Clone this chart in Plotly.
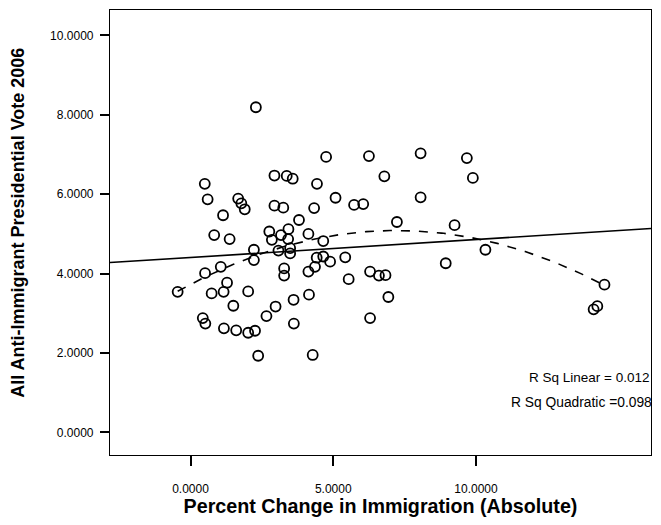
import numpy as np
import plotly.graph_objects as go

# Percent change in immigration (x) and anti-immigrant vote (y)
pct_change = [
    2.29, 2.94, 3.37, 3.58, 0.50, 0.60, 1.67, 1.78, 1.90, 2.94,
    3.25, 1.14, 3.80, 0.83, 1.37, 2.76, 3.17, 3.43, 2.85, 3.42,
    3.49, 3.49, 3.08, 2.22, 2.22, 1.06, 3.28, 3.28, 4.75, 6.25,
    8.06, 9.68, 6.79, 9.89, 4.43, 5.08, 8.06, 5.73, 6.05, 4.33,
    7.23, 9.25, 4.13, 4.65, 10.33, 4.42, 4.65, 4.89, 5.42, 8.94,
    6.29, 4.36, 4.13, 5.54, 6.60, 6.83, 4.15, 6.93, 6.29, 4.28,
    0.51, -0.45, 0.74, 1.16, 1.28, 2.02, 1.50, 2.98, 2.66, 3.61,
    3.62, 0.43, 0.52, 1.17, 1.60, 2.02, 2.26, 2.37, 14.50, 14.12,
    14.25,
]
anti_vote = [
    8.19, 6.47, 6.46, 6.39, 6.26, 5.87, 5.89, 5.77, 5.62, 5.71,
    5.66, 5.47, 5.35, 4.97, 4.87, 5.06, 4.97, 5.12, 4.85, 4.87,
    4.64, 4.51, 4.58, 4.60, 4.34, 4.17, 4.13, 3.95, 6.94, 6.96,
    7.03, 6.91, 6.45, 6.41, 6.26, 5.91, 5.92, 5.73, 5.75, 5.65,
    5.30, 5.22, 5.00, 4.82, 4.60, 4.40, 4.43, 4.30, 4.41, 4.26,
    4.05, 4.17, 4.05, 3.86, 3.95, 3.96, 3.47, 3.41, 2.88, 1.95,
    4.01, 3.54, 3.50, 3.54, 3.77, 3.55, 3.19, 3.17, 2.93, 3.34,
    2.74, 2.88, 2.74, 2.62, 2.57, 2.51, 2.56, 1.93, 3.72, 3.10,
    3.18,
]

x_ticks = [0, 5, 10]
y_ticks = [0, 2, 4, 6, 8, 10]
x_range = [-2.82, 16.13]
y_range = [-0.57, 10.64]

x = np.array(pct_change)
y = np.array(anti_vote)

lin = np.polyfit(x, y, 1)
quad = np.polyfit(x, y, 2)

lin_x = np.array(x_range)
lin_y = np.polyval(lin, lin_x)
quad_x = np.linspace(x.min(), x.max(), 200)
quad_y = np.polyval(quad, quad_x)

font = "Liberation Sans, Arial, sans-serif"

fig = go.Figure()
fig.add_trace(go.Scatter(
    x=lin_x, y=lin_y, mode="lines",
    line=dict(color="black", width=1.6), hoverinfo="skip", showlegend=False,
))
fig.add_trace(go.Scatter(
    x=quad_x, y=quad_y, mode="lines",
    line=dict(color="black", width=1.6, dash="dash"), hoverinfo="skip", showlegend=False,
))
fig.add_trace(go.Scatter(
    x=pct_change, y=anti_vote, mode="markers",
    marker=dict(symbol="circle-open", size=10, color="black", line=dict(width=1.8)),
    showlegend=False,
))

fig.add_annotation(
    x=1.0, y=0.175, xref="paper", yref="paper", xanchor="right", yanchor="middle",
    text="R Sq Linear = 0.012", showarrow=False,
    font=dict(family=font, size=13.5, color="black"),
)
fig.add_annotation(
    x=1.005, y=0.117, xref="paper", yref="paper", xanchor="right", yanchor="middle",
    text="R Sq Quadratic =0.098", showarrow=False,
    font=dict(family=font, size=13.8, color="black"),
)
fig.add_annotation(
    x=-0.170, y=0.522, xref="paper", yref="paper", xanchor="center", yanchor="middle",
    text="<b>All Anti-Immigrant Presidential Vote 2006</b>", textangle=-90,
    showarrow=False, font=dict(family=font, size=18, color="black"),
)

fig.update_layout(
    width=653, height=517,
    margin=dict(l=102, r=10, t=2, b=70),
    paper_bgcolor="white", plot_bgcolor="white",
    font=dict(family=font, size=12, color="black"),
    xaxis=dict(
        range=x_range, tickvals=x_ticks, tickformat=".4f",
        showgrid=False, zeroline=False,
        showline=True, linecolor="black", linewidth=1.2, mirror=True,
        ticks="outside", ticklen=10, tickwidth=2, tickcolor="black",
        ticklabelstandoff=12,
        title=dict(text="<b>Percent Change in Immigration (Absolute)</b>",
                   font=dict(family=font, size=19.7), standoff=2),
    ),
    yaxis=dict(
        range=y_range, tickvals=y_ticks, tickformat=".4f",
        showgrid=False, zeroline=False,
        showline=True, linecolor="black", linewidth=1.2, mirror=True,
        ticks="outside", ticklen=9, tickwidth=2, tickcolor="black",
        ticklabelstandoff=4,
    ),
)

fig.write_html("out.html")
